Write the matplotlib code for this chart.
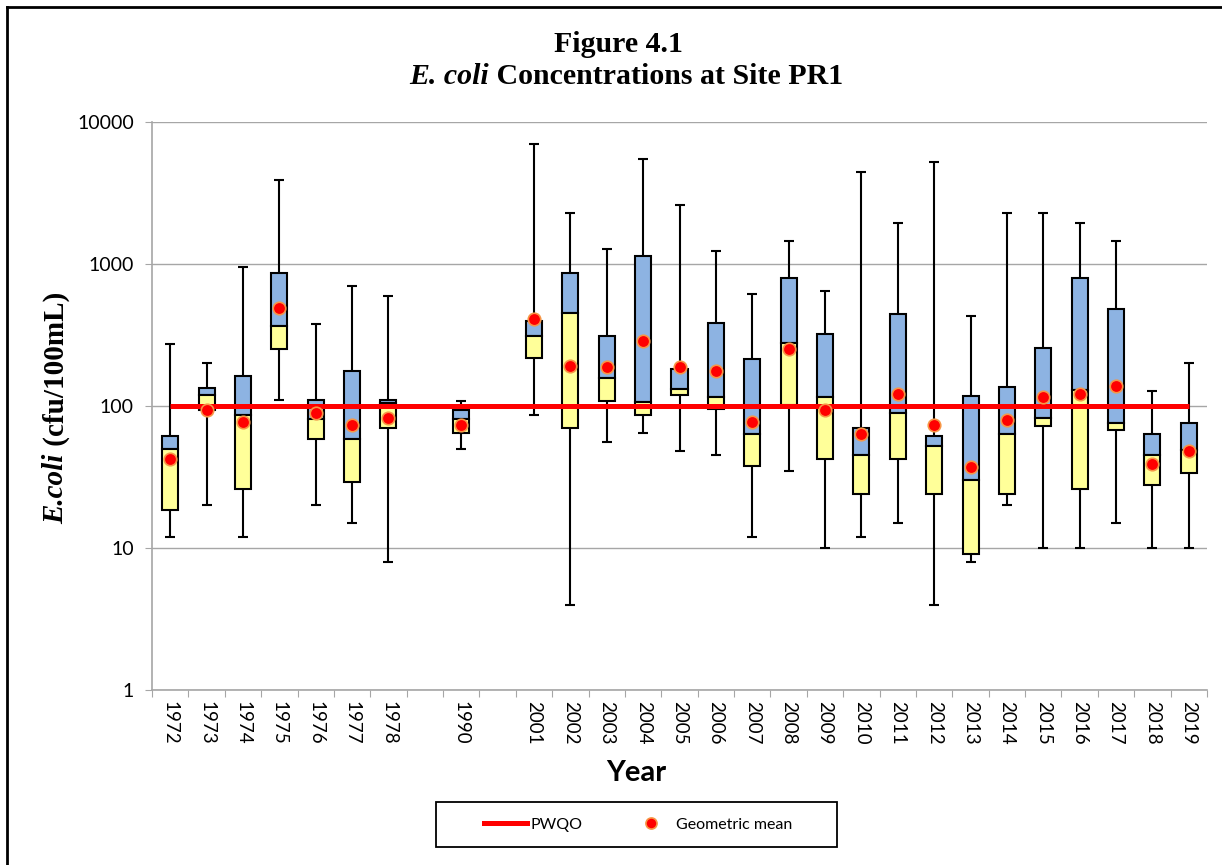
import numpy as np
import matplotlib
matplotlib.use('Agg')
import matplotlib.pyplot as plt
from matplotlib.lines import Line2D
from matplotlib.patches import Rectangle
from matplotlib.ticker import NullLocator

nan = np.nan

years = ['1972', '1973', '1974', '1975', '1976', '1977', '1978', '', '1990', '',
         '2001', '2002', '2003', '2004', '2005', '2006', '2007', '2008', '2009',
         '2010', '2011', '2012', '2013', '2014', '2015', '2016', '2017', '2018', '2019']
wmax = [273, 201, 948, 3880, 375, 698, 594, nan, 108, nan,
        7050, 2270, 1271, 5530, 2588, 1240, 613, 1458, 649,
        4450, 1954, 5230, 430, 2270, 2270, 1954, 1458, 127, 201]
q3 = [61, 134, 163, 869, 111, 176, 111, nan, 94, nan,
      399, 869, 311, 1143, 181, 387, 213, 801, 319,
      70, 441, 61, 117, 137, 256, 801, 481, 63, 76]
med = [50, 120, 87, 365, 81, 59, 105, nan, 81, nan,
       311, 452, 158, 107, 131, 115, 64, 280, 115,
       45, 89, 52, 30, 63, 82, 130, 76, 45, 49]
q1 = [18.6, 93, 26, 250, 59, 29, 70, nan, 65, nan,
      218, 70, 108, 87, 120, 96, 38, 102, 42,
      24, 42, 24, 9, 24, 72, 26, 68, 28, 34]
wmin = [12, 20, 12, 111, 20, 15, 8, nan, 50, nan,
        87, 4, 56, 65, 48, 45, 12, 35, 10,
        12, 15, 4, 8, 20, 10, 10, 15, 10, 10]
gmean = [42, 93, 77, 487, 89, 73, 82, nan, 73, nan,
         409, 190, 189, 288, 189, 176, 77, 250, 94,
         63, 122, 73, 37, 80, 115, 121, 139, 39, 48]
pwqo = 100
ytick_vals = [1, 10, 100, 1000, 10000]
ytick_labels = ['1', '10', '100', '1000', '10000']

W, H = 1222, 865
fig = plt.figure(figsize=(W / 100, H / 100), dpi=100)
ax = fig.add_axes([152 / W, 1 - 690 / H, (1207 - 152) / W, (690 - 122) / H])

x = np.arange(len(years))
wmax_a, q3_a, med_a, q1_a, wmin_a, gm_a = [np.array(v, dtype=float) for v in (wmax, q3, med, q1, wmin, gmean)]
m = ~np.isnan(med_a)

ax.set_yscale('log')
ax.set_ylim(1, 10000)
ax.set_xlim(-0.5, len(years) - 0.5)

bw = 0.44
ax.vlines(x[m], q3_a[m], wmax_a[m], color='black', lw=1.5, zorder=2)
ax.vlines(x[m], wmin_a[m], q1_a[m], color='black', lw=1.5, zorder=2)
ax.plot(x[m], wmax_a[m], ls='none', marker='_', ms=7.5, mew=1.5, color='black', zorder=2)
ax.plot(x[m], wmin_a[m], ls='none', marker='_', ms=7.5, mew=1.5, color='black', zorder=2)
ax.bar(x[m], q3_a[m] - med_a[m], bottom=med_a[m], width=bw, color='#8DB3E2',
       edgecolor='black', linewidth=1.5, zorder=3)
ax.bar(x[m], med_a[m] - q1_a[m], bottom=q1_a[m], width=bw, color='#FFFF99',
       edgecolor='black', linewidth=1.5, zorder=3)
ax.plot([x[0], x[-1]], [pwqo, pwqo], color='#FF0000', lw=3.6, zorder=4, solid_capstyle='butt')
ax.plot(x[m], gm_a[m], ls='none', marker='o', ms=9, mfc='#FF0000', mec='#F79646',
        mew=1.2, zorder=5)

ax.set_yticks(ytick_vals)
ax.set_yticklabels(ytick_labels)
ax.yaxis.set_minor_locator(NullLocator())
ax.yaxis.grid(True, color='#A6A6A6', lw=1)
ax.set_axisbelow(True)

ax.set_xticks(np.arange(len(years) + 1) - 0.5)
ax.set_xticklabels([])
ax.set_xticks(x, minor=True)
ax.set_xticklabels(years, minor=True, rotation=-90, fontsize=13.5, family='Lato')
ax.tick_params(axis='x', which='major', length=5, color='#A6A6A6', direction='out')
ax.tick_params(axis='x', which='minor', length=0, pad=8)
ax.tick_params(axis='y', which='major', length=5, color='#A6A6A6', direction='out', pad=8,
               labelsize=14)
for lab in ax.get_yticklabels():
    lab.set_family('Lato')

for s in ('top', 'right'):
    ax.spines[s].set_visible(False)
for s in ('left', 'bottom'):
    ax.spines[s].set_color('#A6A6A6')
    ax.spines[s].set_linewidth(1.2)

# Title (mixed italic / bold)
renderer = fig.canvas.get_renderer()
cx = 624 / W
fig.text(618 / W, 1 - 44 / H, 'Figure 4.1', ha='center', va='center', family='Liberation Serif',
         weight='bold', fontsize=21.5)
ta = fig.text(0, 1 - 77 / H, 'E. coli', ha='left', va='center', family='Liberation Serif',
              weight='bold', style='italic', fontsize=21.5)
tb = fig.text(0, 1 - 77 / H, ' Concentrations at Site PR1', ha='left', va='center',
              family='Liberation Serif', weight='bold', fontsize=21.5)
wa = ta.get_window_extent(renderer).width
wb = tb.get_window_extent(renderer).width
x0 = 626.5 - (wa + wb) / 2
ta.set_x(x0 / W)
tb.set_x((x0 + wa) / W)

# Y label (mixed)
ya = fig.text(56 / W, 0, 'E.coli', rotation=90, ha='center', va='bottom', family='Liberation Serif',
              weight='bold', style='italic', fontsize=21)
yb = fig.text(56 / W, 0, ' (cfu/100mL)', rotation=90, ha='center', va='bottom',
              family='Liberation Serif', weight='bold', fontsize=21)
ha_ = ya.get_window_extent(renderer).height
hb_ = yb.get_window_extent(renderer).height
ycen = 408
ybot = ycen + (ha_ + hb_) / 2  # pixel from top
ya.set_y(1 - ybot / H)
yb.set_y(1 - (ybot - ha_) / H)

fig.text(636 / W, 1 - 773 / H, 'Year', ha='center', va='center', family='Lato',
         weight='bold', fontsize=21)

# Legend
handles = [Line2D([], [], color='#FF0000', lw=3.6),
           Line2D([], [], ls='none', marker='o', ms=8, mfc='#FF0000', mec='#F79646', mew=1.2)]
fig.legend(handles, ['PWQO', 'Geometric mean'], loc='center',
           bbox_to_anchor=(638 / W, 1 - 824.5 / H), ncol=2, frameon=False,
           prop={'family': 'Lato', 'size': 11.5}, handlelength=2.7, handletextpad=0.25,
           columnspacing=2.9)
fig.patches.append(Rectangle((436 / W, 1 - 847 / H), (837 - 436) / W, 45 / H,
                             transform=fig.transFigure, fill=False, edgecolor='black', lw=1.3))

# Outer border
fig.add_artist(Line2D([7 / W, 7 / W], [0, 1 - 7 / H], transform=fig.transFigure, color='black', lw=2))
fig.add_artist(Line2D([7 / W, 1], [1 - 7 / H, 1 - 7 / H], transform=fig.transFigure, color='black', lw=2))

fig.savefig('out.png', dpi=100)
